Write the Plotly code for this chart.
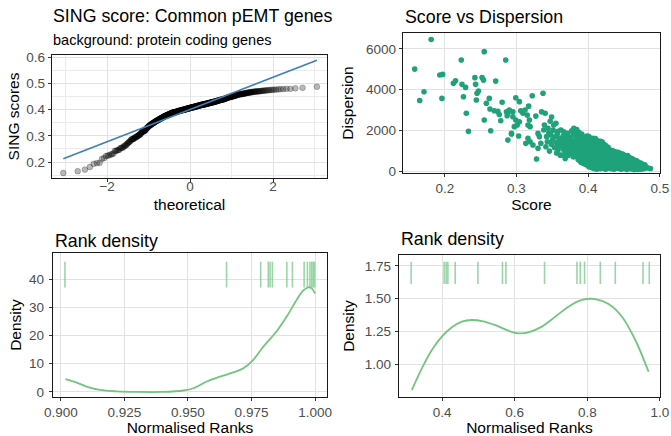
import plotly.graph_objects as go
from statistics import NormalDist

# ---------------- data ----------------
# per-gene SING score and dispersion (read from the scatter / qq panels)
score = [
    0.158, 0.165, 0.171, 0.181, 0.193, 0.196, 0.197,
    0.212, 0.215, 0.223, 0.224, 0.226, 0.229, 0.230, 0.233,
    0.242, 0.243, 0.244, 0.245, 0.247,
    0.252, 0.254, 0.255, 0.255, 0.258, 0.262, 0.263, 0.264, 0.269, 0.271,
    0.274, 0.276, 0.278, 0.280, 0.285, 0.286, 0.287, 0.288, 0.288, 0.290,
    0.293, 0.293, 0.295, 0.295, 0.297, 0.299, 0.299,
    0.301, 0.303, 0.304, 0.304, 0.306, 0.309, 0.312, 0.313, 0.315, 0.316,
    0.316, 0.317, 0.318, 0.319, 0.319, 0.322, 0.323, 0.327, 0.328, 0.330,
    0.330, 0.332, 0.334, 0.335, 0.337, 0.338, 0.339, 0.340,
    0.341, 0.342, 0.343, 0.344, 0.345, 0.346, 0.347, 0.348, 0.349, 0.349,
    0.350, 0.351, 0.352, 0.353, 0.354, 0.355, 0.356, 0.356, 0.357, 0.358,
    0.358, 0.359, 0.359,
    0.360, 0.361, 0.362, 0.362, 0.363, 0.364, 0.364, 0.365, 0.366, 0.366,
    0.367, 0.368, 0.368, 0.369, 0.369,
    0.370, 0.371, 0.371, 0.372, 0.373, 0.373, 0.374, 0.374, 0.375, 0.375,
    0.376, 0.376, 0.377, 0.377, 0.378, 0.378, 0.379, 0.379, 0.379,
    0.380, 0.380, 0.381, 0.381, 0.382, 0.382, 0.383, 0.383, 0.384, 0.384,
    0.385, 0.385, 0.385, 0.386, 0.386, 0.387, 0.387, 0.387, 0.388, 0.388,
    0.388, 0.389, 0.389, 0.389, 0.389, 0.389, 0.389,
    0.390, 0.390, 0.390, 0.391, 0.391, 0.391, 0.392, 0.392, 0.392, 0.392,
    0.393, 0.393, 0.393, 0.394, 0.394, 0.394, 0.394, 0.395, 0.395, 0.395,
    0.395, 0.396, 0.396, 0.396, 0.396, 0.397, 0.397, 0.397, 0.397, 0.398,
    0.398, 0.398, 0.398, 0.399, 0.399, 0.399, 0.399, 0.399,
    0.400, 0.400, 0.400, 0.400, 0.401, 0.401, 0.401, 0.401, 0.402, 0.402,
    0.402, 0.402, 0.403, 0.403, 0.403, 0.403, 0.404, 0.404, 0.404, 0.404,
    0.405, 0.405, 0.405, 0.405, 0.406, 0.406, 0.406, 0.406, 0.407, 0.407,
    0.407, 0.407, 0.408, 0.408, 0.408, 0.408, 0.409, 0.409, 0.409, 0.409,
    0.409, 0.409,
    0.410, 0.410, 0.410, 0.410, 0.411, 0.411, 0.411, 0.411, 0.412, 0.412,
    0.412, 0.412, 0.413, 0.413, 0.413, 0.413, 0.414, 0.414, 0.414, 0.414,
    0.415, 0.415, 0.415, 0.415, 0.416, 0.416, 0.416, 0.416, 0.417, 0.417,
    0.417, 0.417, 0.418, 0.418, 0.418, 0.418, 0.419, 0.419, 0.419, 0.419,
    0.419, 0.419, 0.419,
    0.420, 0.420, 0.420, 0.420, 0.421, 0.421, 0.421, 0.421, 0.422, 0.422,
    0.422, 0.422, 0.423, 0.423, 0.423, 0.423, 0.424, 0.424, 0.424, 0.424,
    0.425, 0.425, 0.425, 0.425, 0.426, 0.426, 0.426, 0.426, 0.427, 0.427,
    0.427, 0.427, 0.428, 0.428, 0.428, 0.428, 0.429, 0.429, 0.429, 0.429,
    0.430, 0.430, 0.430, 0.431, 0.431, 0.431, 0.432, 0.432, 0.432, 0.433,
    0.433, 0.433, 0.434, 0.434, 0.434, 0.435, 0.435, 0.435, 0.436, 0.436,
    0.436, 0.437, 0.437, 0.437, 0.438, 0.438, 0.438, 0.439, 0.439, 0.439,
    0.439, 0.439,
    0.440, 0.440, 0.441, 0.441, 0.442, 0.442, 0.443, 0.443, 0.444, 0.444,
    0.445, 0.445, 0.446, 0.446, 0.447, 0.447, 0.448, 0.448, 0.448, 0.449,
    0.449, 0.449, 0.449,
    0.450, 0.450, 0.451, 0.451, 0.452, 0.452, 0.453, 0.453, 0.454, 0.454,
    0.455, 0.455, 0.456, 0.456, 0.457, 0.457, 0.458, 0.458, 0.458, 0.459,
    0.459, 0.459, 0.459,
    0.460, 0.460, 0.460, 0.461, 0.461, 0.462, 0.462, 0.463, 0.463, 0.464,
    0.464, 0.464, 0.465, 0.465, 0.466, 0.466, 0.467, 0.467, 0.467, 0.468,
    0.468, 0.469, 0.469, 0.469, 0.469,
    0.470, 0.470, 0.471, 0.471, 0.472, 0.472, 0.473, 0.473, 0.474, 0.474,
    0.475, 0.475, 0.476, 0.476, 0.477, 0.478, 0.478, 0.479, 0.479,
    0.481, 0.483, 0.487,
]
dispersion = [
    5010, 3470, 3900, 6470, 4720, 3570, 4750,
    4310, 4440, 5460, 4260, 3650, 4110, 2840, 1950,
    4590, 4260, 3490, 3820, 3930,
    4600, 4470, 5870, 2510, 3330, 3570, 3050, 1980, 2960, 4420,
    2930, 2780, 2470, 3380, 5460, 2910, 2720, 2840, 1520, 3000,
    1820, 1850, 2910, 2670, 2180, 3600, 2510,
    2260, 1720, 3410, 2420, 2960, 2840, 3000, 1360, 2750, 2260,
    1610, 3190, 2510, 2180, 1440, 3700, 1280, 2700, 590, 1850,
    1120, 1690, 1360, 2910, 3820, 2020, 2260, 2840,
    1190, 1690, 1440, 2100, 1870, 980, 2450, 1770, 1300, 2650,
    1520, 2010, 2260, 1150, 1680, 2350, 880, 1400, 1850, 1030,
    1950, 1230, 1620,
    1440, 780, 2020, 1190, 1560, 1280, 790, 1720, 1930, 1050,
    1360, 620, 1500, 900, 1210,
    1690, 1120, 1850, 760, 1520, 1300, 1120, 950, 1640, 1410,
    1530, 850, 1230, 1980, 950, 1060, 1340, 700, 1790,
    2100, 700, 1440, 1180, 1930, 900, 1620, 1280, 1050, 2040,
    760, 1350, 1710, 560, 1150, 1280, 1900, 870, 1030, 1480,
    520, 1220, 650, 1590, 960, 830, 1380,
    870, 1610, 430, 1230, 690, 1820, 540, 1050, 1400, 760,
    1290, 380, 920, 1610, 870, 610, 1150, 1480, 340, 990,
    720, 1270, 520, 1690, 860, 380, 1130, 640, 1430, 930,
    290, 1600, 780, 1050, 460, 1310, 700, 1720,
    1610, 300, 880, 1240, 530, 1690, 1030, 210, 760, 1420,
    1130, 420, 930, 1560, 640, 250, 1300, 810, 1050, 370,
    1520, 580, 990, 160, 1230, 700, 1610, 450, 870, 1120,
    260, 1400, 620, 1280, 950, 120, 750, 1460, 350, 1060,
    530, 1600,
    1200, 400, 820, 1590, 1010, 230, 650, 1350, 880, 520,
    1180, 90, 1490, 700, 320, 960, 1100, 560, 1300, 180,
    800, 1440, 400, 1010, 620, 1230, 260, 870, 1460, 450,
    1060, 110, 720, 1380, 930, 330, 1150, 560, 1290, 190,
    840, 1440, 490,
    1060, 380, 750, 1400, 570, 1200, 150, 900, 1300, 440,
    680, 1010, 230, 820, 1150, 510, 1020, 90, 640, 1260,
    370, 890, 1100, 600, 210, 760, 1190, 450, 970, 130,
    680, 1080, 330, 850, 560, 1150, 250, 720, 960, 420,
    1040, 300, 640, 880, 180, 1000, 470, 770, 110, 950,
    560, 260, 830, 390, 1010, 150, 680, 920, 420, 750,
    90, 580, 880, 310, 720, 200, 940, 490, 820, 140,
    650, 360,
    860, 410, 150, 700, 920, 280, 560, 800, 120, 480,
    860, 330, 640, 90, 760, 420, 220, 590, 830, 350,
    130, 680, 470,
    780, 300, 540, 120, 700, 410, 230, 620, 80, 480,
    760, 330, 560, 170, 410, 680, 250, 120, 520, 360,
    610, 200, 440,
    530, 140, 380, 260, 610, 90, 440, 310, 560, 180,
    400, 70, 490, 270, 150, 420, 330, 100, 520, 240,
    380, 160, 300, 450, 80,
    360, 130, 270, 410, 190, 90, 330, 240, 150, 380,
    210, 100, 290, 170, 250, 120, 220, 160, 300,
    200, 150, 120,
]

# reference line of the qq panel
qq_line_intercept = 0.400
qq_line_slope = 0.0615

# normalised ranks of the gene set (two sets, one per density panel)
ranks_a = [0.9016, 0.9652, 0.9786, 0.9816, 0.9823, 0.9832, 0.9889, 0.9911,
           0.9957, 0.9970, 0.9980, 0.9987, 0.9993, 0.9998]
ranks_b = [0.3145, 0.4055, 0.4110, 0.4157, 0.4359, 0.4985, 0.5663, 0.5757,
           0.6822, 0.7716, 0.7807, 0.7926, 0.8360, 0.8773, 0.9537, 0.9710]

# kernel density curves
dens_a_x = [0.9018, 0.9062, 0.9101, 0.9154, 0.9219, 0.9300, 0.9400, 0.9482,
            0.9521, 0.9574, 0.9626, 0.9678, 0.9718, 0.9757, 0.9797, 0.9849,
            0.9889, 0.9928, 0.9954, 0.9974, 0.9987, 1.0000]
dens_a_y = [4.5, 3.3, 1.9, 0.7, 0.2, 0.0, 0.0, 0.5, 1.3, 3.7, 5.4, 6.9, 8.4,
            11.4, 16.1, 21.5, 26.8, 32.7, 36.0, 37.1, 36.7, 34.9]
dens_b_x = [0.3164, 0.344, 0.3716, 0.399, 0.4268, 0.4543, 0.4819, 0.5095,
            0.5462, 0.5829, 0.6105, 0.638, 0.675, 0.7117, 0.7484, 0.7853,
            0.822, 0.8588, 0.8957, 0.9324, 0.9691]
dens_b_y = [0.801, 0.967, 1.107, 1.209, 1.281, 1.324, 1.337, 1.329, 1.298,
            1.255, 1.235, 1.243, 1.286, 1.362, 1.439, 1.490, 1.497, 1.459,
            1.362, 1.184, 0.941]

# ---------------- derived (stat_qq) ----------------
n = len(score)
qq_sample = sorted(score)
nd = NormalDist()
qq_theoretical = [nd.inv_cdf((i + 0.5) / n) for i in range(n)]
line_x = [qq_theoretical[0], qq_theoretical[-1]]
line_y = [qq_line_intercept + qq_line_slope * v for v in line_x]

# ---------------- figure ----------------
W, H = 671, 436
FONT = "Liberation Sans, Arial, Helvetica, sans-serif"
GREEN_PT = "#1FA27A"
GREEN_LINE = "#74C47E"
GREEN_RUG = "rgba(120,200,135,0.75)"

fig = go.Figure()

fig.add_trace(go.Scatter(
    x=qq_theoretical, y=qq_sample, mode="markers",
    marker=dict(size=5.8, color="rgba(0,0,0,0.28)",
                line=dict(width=0.8, color="rgba(0,0,0,0.28)")),
    xaxis="x", yaxis="y", showlegend=False, hoverinfo="skip"))
fig.add_trace(go.Scatter(
    x=line_x, y=line_y, mode="lines",
    line=dict(color="#3E7FB8", width=1.6),
    xaxis="x", yaxis="y", showlegend=False, hoverinfo="skip"))

fig.add_trace(go.Scatter(
    x=score, y=dispersion, mode="markers",
    marker=dict(size=5.6, color=GREEN_PT),
    xaxis="x2", yaxis="y2", showlegend=False, hoverinfo="skip"))

fig.add_trace(go.Scatter(
    x=dens_a_x, y=dens_a_y, mode="lines", line=dict(color=GREEN_LINE, width=1.8, shape="spline"),
    xaxis="x3", yaxis="y3", showlegend=False, hoverinfo="skip"))
fig.add_trace(go.Scatter(
    x=dens_b_x, y=dens_b_y, mode="lines", line=dict(color=GREEN_LINE, width=1.8, shape="spline"),
    xaxis="x4", yaxis="y4", showlegend=False, hoverinfo="skip"))

shapes = []
for r in ranks_a:
    shapes.append(dict(type="line", xref="x3", yref="y3 domain", x0=r, x1=r,
                       y0=0.76, y1=0.94, line=dict(color=GREEN_RUG, width=1.6), layer="above"))
for r in ranks_b:
    shapes.append(dict(type="line", xref="x4", yref="y4 domain", x0=r, x1=r,
                       y0=0.795, y1=0.953, line=dict(color=GREEN_RUG, width=1.6), layer="above"))


def px_x(p):
    return p / W


def px_y(p):
    return 1 - p / H


tickfont = dict(family=FONT, size=13.5, color="#4D4D4D")
titlefont = dict(family=FONT, size=15.5, color="#000000")


def ax(domain, rng, **kw):
    d = dict(domain=domain, range=rng, showline=True, linecolor="#1A1A1A", linewidth=1.3,
             mirror=True, ticks="outside", ticklen=3, tickwidth=1, tickcolor="#333333",
             showgrid=True, gridcolor="#E2E2E2", gridwidth=1, zeroline=False,
             tickfont=tickfont, title_font=titlefont, automargin=False)
    d.update(kw)
    return d


layout_axes = dict(
    xaxis=ax([px_x(52), px_x(327)], [-3.33, 3.30], anchor="y", tickvals=[-2, 0, 2],
             ticktext=["\u22122", "0", "2"], ticklabelstandoff=-8,
             title=dict(text="theoretical", standoff=6),
             minor=dict(dtick=1, tick0=-3, showgrid=True, gridcolor="#EBEBEB", gridwidth=1, ticks="")),
    yaxis=ax([px_y(178), px_y(55)], [0.139, 0.608], anchor="x", dtick=0.1, tickformat=".1f",
             title=dict(text="SING scores", standoff=2),
             minor=dict(dtick=0.05, tick0=0.15, showgrid=True, gridcolor="#EBEBEB", gridwidth=1, ticks="")),
    xaxis2=ax([px_x(403), px_x(660)], [0.1417, 0.5002], anchor="y2", tickvals=[0.2, 0.3, 0.4, 0.5],
              tickformat=".1f", ticklabelstandoff=-1, title=dict(text="Score", standoff=4)),
    yaxis2=ax([px_y(173), px_y(33)], [-98, 6786], anchor="x2", tickvals=[0, 2000, 4000, 6000],
              title=dict(text="Dispersion", standoff=8)),
    xaxis3=ax([px_x(53), px_x(327)], [0.8969, 1.0047], anchor="y3",
              tickvals=[0.9, 0.925, 0.95, 0.975, 1.0], tickformat=".3f", ticklabelstandoff=-1,
              title=dict(text="Normalised Ranks", standoff=3)),
    yaxis3=ax([px_y(397), px_y(253)], [-1.8, 49.25], anchor="x3", tickvals=[0, 10, 20, 30, 40],
              ticklabelstandoff=2, title=dict(text="Density", standoff=3)),
    xaxis4=ax([px_x(399), px_x(660)], [0.281, 1.0005], anchor="y4",
              tickvals=[0.4, 0.6, 0.8, 1.0], tickformat=".1f", ticklabelstandoff=-1,
              title=dict(text="Normalised Ranks", standoff=3)),
    yaxis4=ax([px_y(397), px_y(255)], [0.748, 1.834], anchor="x4",
              tickvals=[1.0, 1.25, 1.5, 1.75], tickformat=".2f", ticklabelstandoff=1,
              title=dict(text="Density", standoff=6)),
)

annotations = [
    dict(text="SING score: Common pEMT genes", x=px_x(51), y=px_y(16.5), xanchor="left", yanchor="middle",
         font=dict(family=FONT, size=17.8, color="#000000")),
    dict(text="background: protein coding genes", x=px_x(51), y=px_y(39.5), xanchor="left", yanchor="middle",
         font=dict(family=FONT, size=14.5, color="#000000")),
    dict(text="Score vs Dispersion", x=px_x(402.5), y=px_y(17), xanchor="left", yanchor="middle",
         font=dict(family=FONT, size=17.8, color="#000000")),
    dict(text="Rank density", x=px_x(52.5), y=px_y(240.5), xanchor="left", yanchor="middle",
         font=dict(family=FONT, size=17.8, color="#000000")),
    dict(text="Rank density", x=px_x(398.5), y=px_y(239), xanchor="left", yanchor="middle",
         font=dict(family=FONT, size=17.8, color="#000000")),
]
for a in annotations:
    a.update(xref="paper", yref="paper", showarrow=False)

fig.update_layout(
    width=W, height=H, margin=dict(l=0, r=0, t=0, b=0, autoexpand=False),
    paper_bgcolor="white", plot_bgcolor="white",
    font=dict(family=FONT, color="#000000"),
    shapes=shapes, annotations=annotations, showlegend=False,
    **layout_axes,
)

# the default page has an 8px body margin; remove it so the figure fills the window
fig.write_html("out.html", config={"displayModeBar": False, "staticPlot": True},
               post_script="document.body.style.margin='0';")
